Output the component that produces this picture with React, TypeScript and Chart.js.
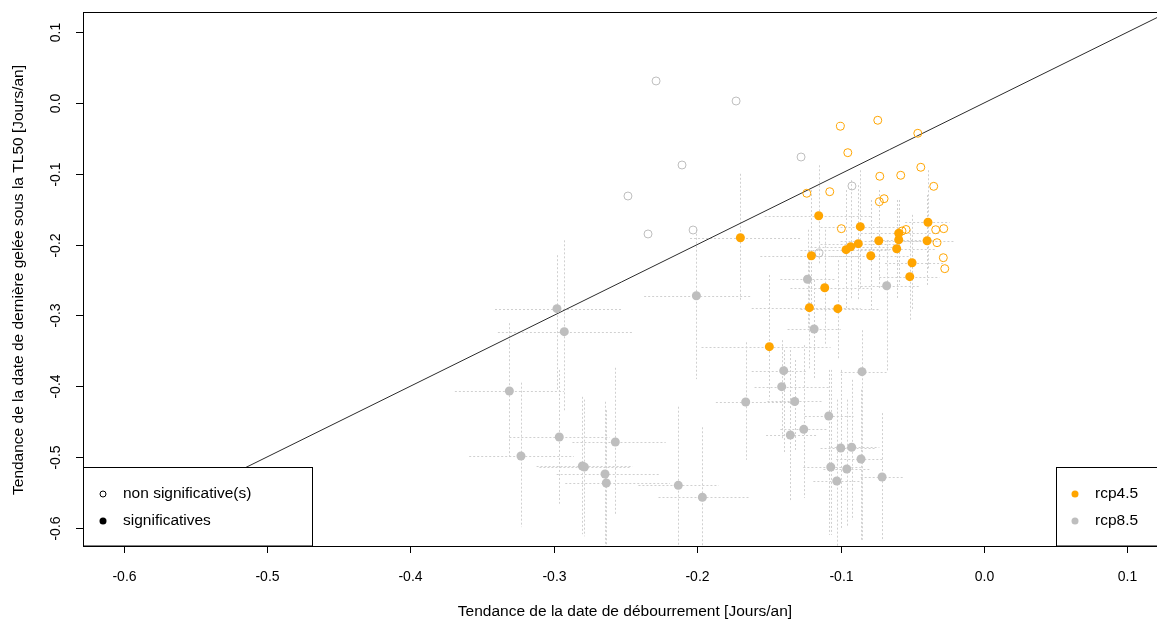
import React, { useEffect, useRef } from "react";
import { Chart, registerables } from "chart.js";

Chart.register(...registerables);

// ---------- DATA ----------
const xTickValues = [-0.6, -0.5, -0.4, -0.3, -0.2, -0.1, 0.0, 0.1];
const xTickLabels = ["-0.6", "-0.5", "-0.4", "-0.3", "-0.2", "-0.1", "0.0", "0.1"];
const yTickValues = [0.1, 0.0, -0.1, -0.2, -0.3, -0.4, -0.5, -0.6];
const yTickLabels = ["0.1", "0.0", "-0.1", "-0.2", "-0.3", "-0.4", "-0.5", "-0.6"];

const xTitle = "Tendance de la date de débourrement [Jours/an]";
const yTitle = "Tendance de la date de dernière gelée sous la TL50 [Jours/an]";
const legendSigLabels = ["non significative(s)", "significatives"];
const legendRcpLabels = ["rcp4.5", "rcp8.5"];

// rcp4.5, non significant
const rcp45NsX = [-0.1002, -0.0741, -0.0462, -0.0950, -0.1236, -0.1076, -0.0727, -0.0581, -0.0441, -0.0351, -0.0730, -0.0697, -0.0995, -0.0572, -0.0544, -0.0337, -0.0281, -0.0328, -0.0284, -0.0274];
const rcp45NsY = [-0.0329, -0.0244, -0.0428, -0.0702, -0.1275, -0.1253, -0.1035, -0.1021, -0.0908, -0.1177, -0.1394, -0.1352, -0.1775, -0.1808, -0.1787, -0.1790, -0.1775, -0.1973, -0.2185, -0.2340];

// rcp4.5, significant (with uncertainty ranges)
const rcp45SX = [-0.1699, -0.1153, -0.0863, -0.0595, -0.0391, -0.1204, -0.0962, -0.0930, -0.0877, -0.0734, -0.0595, -0.0397, -0.0609, -0.0790, -0.0502, -0.0518, -0.1111, -0.1218, -0.1020, -0.1497];
const rcp45SY = [-0.1903, -0.1592, -0.1747, -0.1840, -0.1685, -0.2157, -0.2072, -0.2030, -0.1987, -0.1945, -0.1931, -0.1945, -0.2058, -0.2157, -0.2256, -0.2453, -0.2609, -0.2891, -0.2905, -0.3442];
const rcp45SXLo = [-0.205, -0.153, -0.114, -0.086, -0.055, -0.156, -0.128, -0.121, -0.114, -0.100, -0.079, -0.059, -0.086, -0.107, -0.069, -0.073, -0.135, -0.162, -0.128, -0.197];
const rcp45SXHi = [-0.128, -0.079, -0.059, -0.031, -0.024, -0.086, -0.066, -0.062, -0.059, -0.045, -0.034, -0.020, -0.034, -0.052, -0.027, -0.031, -0.079, -0.086, -0.073, -0.107];
const rcp45SYHi = [-0.100, -0.088, -0.095, -0.137, -0.095, -0.123, -0.123, -0.109, -0.116, -0.123, -0.137, -0.130, -0.137, -0.137, -0.158, -0.179, -0.179, -0.208, -0.222, -0.243];
const rcp45SYLo = [-0.278, -0.229, -0.264, -0.250, -0.236, -0.292, -0.292, -0.278, -0.278, -0.264, -0.257, -0.257, -0.278, -0.292, -0.292, -0.306, -0.342, -0.377, -0.363, -0.419];

// rcp8.5, non significant
const rcp85NsX = [-0.2287, -0.1729, -0.2106, -0.2483, -0.2343, -0.2029, -0.1276, -0.0921, -0.1151];
const rcp85NsY = [0.0311, 0.0028, -0.0876, -0.1314, -0.1850, -0.1794, -0.0763, -0.1172, -0.2119];

// rcp8.5, significant (with uncertainty ranges)
const rcp85SX = [-0.2978, -0.2927, -0.3310, -0.2962, -0.2571, -0.3229, -0.2801, -0.2787, -0.2643, -0.2634, -0.2006, -0.1662, -0.2132, -0.1964, -0.1231, -0.0679, -0.1185, -0.1397, -0.0851, -0.1411, -0.1320, -0.1083, -0.1257, -0.1351, -0.0999, -0.0923, -0.0858, -0.1069, -0.0957, -0.1027, -0.0711];
const rcp85SY = [-0.2905, -0.3230, -0.4068, -0.4718, -0.4788, -0.4986, -0.5127, -0.5141, -0.5240, -0.5367, -0.2722, -0.4223, -0.5400, -0.5569, -0.2490, -0.2581, -0.3192, -0.3781, -0.3795, -0.4007, -0.4216, -0.4421, -0.4609, -0.4689, -0.4873, -0.4863, -0.5028, -0.5141, -0.5169, -0.5339, -0.5282];
const rcp85SXLo = [-0.341, -0.339, -0.369, -0.331, -0.287, -0.359, -0.312, -0.310, -0.298, -0.292, -0.237, -0.187, -0.241, -0.227, -0.142, -0.086, -0.137, -0.162, -0.100, -0.160, -0.151, -0.125, -0.142, -0.152, -0.114, -0.107, -0.103, -0.126, -0.112, -0.119, -0.086];
const rcp85SXHi = [-0.253, -0.245, -0.293, -0.261, -0.222, -0.286, -0.245, -0.247, -0.226, -0.219, -0.163, -0.135, -0.185, -0.164, -0.103, -0.045, -0.100, -0.123, -0.068, -0.107, -0.112, -0.091, -0.109, -0.116, -0.075, -0.073, -0.070, -0.086, -0.080, -0.085, -0.056];
const rcp85SYHi = [-0.215, -0.194, -0.311, -0.377, -0.374, -0.395, -0.415, -0.419, -0.422, -0.434, -0.179, -0.338, -0.429, -0.458, -0.179, -0.194, -0.250, -0.349, -0.321, -0.335, -0.363, -0.377, -0.342, -0.349, -0.377, -0.391, -0.405, -0.377, -0.419, -0.419, -0.438];
const rcp85SYLo = [-0.405, -0.434, -0.500, -0.566, -0.582, -0.599, -0.609, -0.612, -0.629, -0.629, -0.390, -0.504, -0.629, -0.629, -0.321, -0.380, -0.391, -0.493, -0.617, -0.476, -0.490, -0.610, -0.558, -0.561, -0.603, -0.589, -0.617, -0.610, -0.599, -0.626, -0.617];

// 1:1 reference line
const refLineX = [-0.8, 0.2];
const refLineY = [-0.8, 0.2];

// ---------- STYLE ----------
const ORANGE = "#FFA500";
const GREY = "#BEBEBE";
const ERR = "rgb(208,208,208)";
const FONT = "'Liberation Sans', Arial, sans-serif";

const X_MIN = -0.6283;
const X_MAX = 0.1206;
const Y_MIN = -0.6257;
const Y_MAX = 0.1285;

const toPts = (xs: number[], ys: number[]) => xs.map((x, i) => ({ x, y: ys[i] }));

const errorBarPlugin = {
  id: "errorBars",
  beforeDatasetsDraw(chart: any) {
    const { ctx, chartArea: a } = chart;
    const sx = chart.scales.x;
    const sy = chart.scales.y;
    ctx.save();
    ctx.beginPath();
    ctx.rect(a.left, a.top, a.right - a.left, a.bottom - a.top);
    ctx.clip();
    ctx.strokeStyle = ERR;
    ctx.lineWidth = 1;
    ctx.setLineDash([2, 2]);
    const draw = (xs: number[], ys: number[], xlo: number[], xhi: number[], ylo: number[], yhi: number[]) => {
      xs.forEach((x, i) => {
        const px = Math.round(sx.getPixelForValue(x)) + 0.5;
        const py = Math.round(sy.getPixelForValue(ys[i])) + 0.5;
        ctx.beginPath();
        ctx.moveTo(sx.getPixelForValue(xlo[i]), py);
        ctx.lineTo(sx.getPixelForValue(xhi[i]), py);
        ctx.moveTo(px, sy.getPixelForValue(yhi[i]));
        ctx.lineTo(px, sy.getPixelForValue(ylo[i]));
        ctx.stroke();
      });
    };
    draw(rcp85SX, rcp85SY, rcp85SXLo, rcp85SXHi, rcp85SYLo, rcp85SYHi);
    draw(rcp45SX, rcp45SY, rcp45SXLo, rcp45SXHi, rcp45SYLo, rcp45SYHi);
    ctx.restore();
  },
};

const framePlugin = {
  id: "frame",
  afterDraw(chart: any) {
    const { ctx, chartArea: a } = chart;
    const sx = chart.scales.x;
    const sy = chart.scales.y;
    ctx.save();
    ctx.setLineDash([]);
    ctx.strokeStyle = "#000";
    ctx.lineWidth = 1;
    // plot box
    ctx.strokeRect(Math.round(a.left) + 0.5, Math.round(a.top) + 0.5, a.right - a.left, a.bottom - a.top);

    ctx.fillStyle = "#000";
    ctx.font = `14px ${FONT}`;
    // x ticks
    ctx.textAlign = "center";
    ctx.textBaseline = "middle";
    xTickValues.forEach((v, i) => {
      const px = Math.round(sx.getPixelForValue(v)) + 0.5;
      ctx.beginPath();
      ctx.moveTo(px, a.bottom);
      ctx.lineTo(px, a.bottom + 7);
      ctx.stroke();
      ctx.fillText(xTickLabels[i], px, a.bottom + 31);
    });
    // y ticks (rotated labels)
    yTickValues.forEach((v, i) => {
      const py = Math.round(sy.getPixelForValue(v)) + 0.5;
      ctx.beginPath();
      ctx.moveTo(a.left, py);
      ctx.lineTo(a.left - 7, py);
      ctx.stroke();
      ctx.save();
      ctx.translate(a.left - 27, py);
      ctx.rotate(-Math.PI / 2);
      ctx.fillText(yTickLabels[i], 0, 0);
      ctx.restore();
    });
    // titles
    ctx.font = `15.5px ${FONT}`;
    ctx.fillText(xTitle, 625, a.bottom + 66);
    ctx.save();
    ctx.translate(19, (a.top + a.bottom) / 2 + 1);
    ctx.rotate(-Math.PI / 2);
    ctx.fillText(yTitle, 0, 0);
    ctx.restore();

    // legend boxes
    const boxTop = 467.5;
    const lx = 83.5;
    ctx.fillStyle = "#fff";
    ctx.fillRect(lx, boxTop, 229, a.bottom - boxTop);
    ctx.strokeRect(lx, boxTop, 229, a.bottom - boxTop);
    const rx = 1056.5;
    ctx.fillRect(rx, boxTop, 200, a.bottom - boxTop);
    ctx.strokeRect(rx, boxTop, 200, a.bottom - boxTop);

    ctx.textAlign = "left";
    ctx.fillStyle = "#000";
    const row1 = 494;
    const row2 = 521;
    // significance legend
    ctx.beginPath();
    ctx.arc(103, row1, 3, 0, Math.PI * 2);
    ctx.stroke();
    ctx.beginPath();
    ctx.arc(103, row2, 3.5, 0, Math.PI * 2);
    ctx.fill();
    ctx.fillText(legendSigLabels[0], 123, row1);
    ctx.fillText(legendSigLabels[1], 123, row2);
    // rcp legend
    ctx.fillStyle = ORANGE;
    ctx.beginPath();
    ctx.arc(1075, row1, 3.5, 0, Math.PI * 2);
    ctx.fill();
    ctx.fillStyle = GREY;
    ctx.beginPath();
    ctx.arc(1075, row2, 3.5, 0, Math.PI * 2);
    ctx.fill();
    ctx.fillStyle = "#000";
    ctx.fillText(legendRcpLabels[0], 1095, row1);
    ctx.fillText(legendRcpLabels[1], 1095, row2);
    ctx.restore();
  },
};

export default function App() {
  const canvasRef = useRef<HTMLCanvasElement | null>(null);

  useEffect(() => {
    if (!canvasRef.current) return;
    const chart = new Chart(canvasRef.current, {
      type: "scatter",
      data: {
        datasets: [
          {
            label: "1:1",
            type: "line",
            data: toPts(refLineX, refLineY),
            borderColor: "#2b2b2b",
            borderWidth: 1,
            pointRadius: 0,
            fill: false,
            order: 5,
          } as any,
          {
            label: "rcp8.5 ns",
            data: toPts(rcp85NsX, rcp85NsY),
            pointStyle: "circle",
            pointRadius: 4,
            pointBorderWidth: 1,
            pointBorderColor: GREY,
            pointBackgroundColor: "rgba(0,0,0,0)",
            order: 4,
          },
          {
            label: "rcp4.5 ns",
            data: toPts(rcp45NsX, rcp45NsY),
            pointStyle: "circle",
            pointRadius: 4,
            pointBorderWidth: 1,
            pointBorderColor: ORANGE,
            pointBackgroundColor: "rgba(0,0,0,0)",
            order: 3,
          },
          {
            label: "rcp8.5 s",
            data: toPts(rcp85SX, rcp85SY),
            pointStyle: "circle",
            pointRadius: 4.5,
            pointBorderWidth: 0,
            pointBackgroundColor: GREY,
            order: 2,
          },
          {
            label: "rcp4.5 s",
            data: toPts(rcp45SX, rcp45SY),
            pointStyle: "circle",
            pointRadius: 4.5,
            pointBorderWidth: 0,
            pointBackgroundColor: ORANGE,
            order: 1,
          },
        ],
      },
      options: {
        animation: false,
        responsive: false,
        devicePixelRatio: 1,
        layout: { autoPadding: false, padding: { top: 12, right: 0, left: 0, bottom: 0 } },
        plugins: { legend: { display: false }, tooltip: { enabled: false } },
        events: [],
        scales: {
          x: {
            type: "linear",
            min: X_MIN,
            max: X_MAX,
            ticks: { display: false },
            grid: { display: false },
            border: { display: false },
            afterFit: (s: any) => {
              s.height = 78;
            },
          },
          y: {
            type: "linear",
            min: Y_MIN,
            max: Y_MAX,
            ticks: { display: false },
            grid: { display: false },
            border: { display: false },
            afterFit: (s: any) => {
              s.width = 83;
            },
          },
        },
      } as any,
      plugins: [errorBarPlugin, framePlugin],
    });
    return () => chart.destroy();
  }, []);

  return (
    <div style={{ position: "absolute", left: 0, top: 0, width: 1157, height: 624, background: "#fff" }}>
      <canvas ref={canvasRef} width={1157} height={624} style={{ display: "block" }} />
    </div>
  );
}
